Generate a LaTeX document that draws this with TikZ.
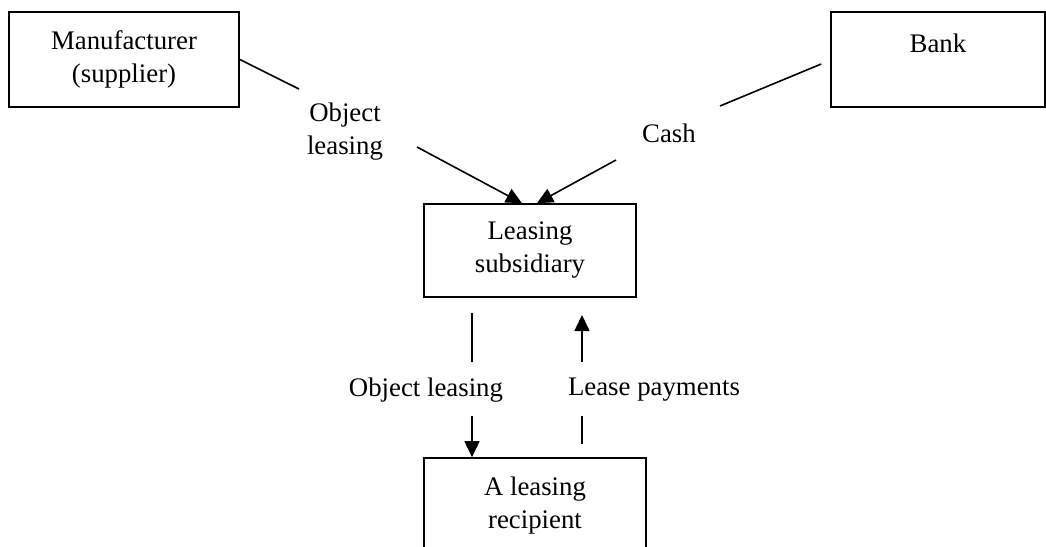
\documentclass[tikz,border=0pt]{standalone}
\usepackage{fontspec}
\setmainfont{Liberation Serif}
\usetikzlibrary{arrows.meta}

\begin{document}
\begin{tikzpicture}[x=0.5pt,y=0.5pt,yscale=-1,xscale=1,
		box/.style={draw, line width=0.8pt, align=center, inner sep=0pt},
		lbl/.style={align=center, inner sep=0.75pt},
		arr/.style={line width=0.8pt, -{Triangle[length=8pt,width=7.5pt]}},
		font=\fontsize{13.4}{16.5}\selectfont]
		% Set diagram size to 1046 x 547
		\useasboundingbox (0,0) rectangle (1046,547);

		% Draw the boxes
		\node[box, minimum width=115pt, minimum height=47.5pt] (mfr) at (124,59.5) {Manufacturer\\(supplier)};
		\node[box, minimum width=107pt, minimum height=47.5pt] (bank) at (938,59.5) {Bank\\\mbox{}};
		\node[box, minimum width=106pt, minimum height=46.5pt] (sub) at (530,250.5) {Leasing\\subsidiary};
		\node[box, minimum width=111pt, minimum height=47.5pt] (rcp) at (535,505.5) {A leasing\\recipient};

		% The labels on the connectors
		\node[lbl] (objtop) at (345,131.5) {Object\\leasing};
		\node[lbl] (cash) at (669,133) {Cash};
		\node[lbl] (objlow) at (426,390) {Object leasing};
		\node[lbl] (lease) at (654,390) {Lease payments};

		% Free ends of the broken connectors
		\coordinate (mfrend) at (299,89);
		\coordinate (objstart) at (417,147);
		\coordinate (bankend) at (720,106);
		\coordinate (cashstart) at (616,160);
		\coordinate (dntop) at (472,313);
		\coordinate (dnmid) at (472,362);
		\coordinate (dnlow) at (472,416);
		\coordinate (uplow) at (582,444);
		\coordinate (upmid) at (582,416);
		\coordinate (uptop) at (582,362);
		\coordinate (uptip) at (582,315);

		% Manufacturer to leasing subsidiary (object leasing)
		\draw[line width=0.8pt] (mfr.east) -- (mfrend);
		\draw[arr] (objstart) -- ([xshift=-4pt]sub.north);

		% Bank to leasing subsidiary (cash)
		\draw[line width=0.8pt] ([xshift=-4.5pt,yshift=2.25pt]bank.west) -- (bankend);
		\draw[arr] (cashstart) -- ([xshift=3.5pt]sub.north);

		% Leasing subsidiary to recipient (object leasing)
		\draw[line width=0.8pt] (dntop) -- (dnmid);
		\draw[arr] (dnlow) -- (rcp.north -| dnlow);

		% Recipient to leasing subsidiary (lease payments)
		\draw[line width=0.8pt] (uplow) -- (upmid);
		\draw[arr] (uptop) -- (uptip);
	\end{tikzpicture}
\end{document}
